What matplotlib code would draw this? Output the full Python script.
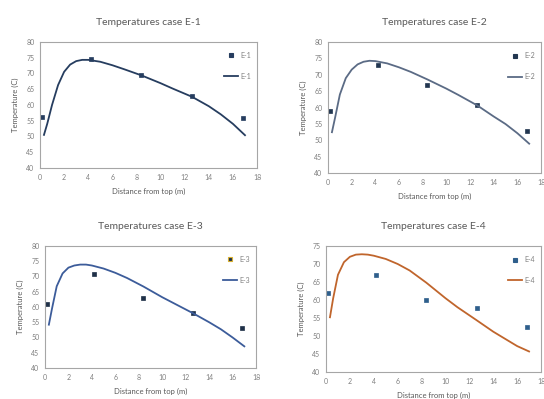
import matplotlib
matplotlib.use("Agg")
from matplotlib import pyplot as plt
from matplotlib.lines import Line2D

plt.rcParams['font.family'] = ['Lato', 'DejaVu Sans']

# measured points (same depths for every case)
depth_pts = [0.15, 4.2, 8.4, 12.6, 16.8]
e1_pts = [56.3, 74.5, 69.5, 62.7, 55.9]
e2_pts = [59.0, 73.0, 67.0, 60.8, 53.0]
e3_pts = [61.0, 70.7, 63.0, 58.0, 53.0]
e4_pts = [62.0, 67.0, 60.0, 57.8, 52.4]

# simulated curves
depth_sim = [0.33, 0.6, 1.0, 1.5, 2.0, 2.5, 3.0, 3.5, 4.0, 5.0, 6.0, 7.0,
             8.4, 10.0, 11.0, 12.6, 14.0, 15.0, 16.0, 17.0]
e1_sim = [50.5, 54.0, 60.0, 66.3, 70.5, 72.8, 73.9, 74.3, 74.3, 73.7, 72.6, 71.3,
          69.4, 66.9, 65.2, 62.6, 59.6, 57.0, 54.0, 50.4]
e2_sim = [52.5, 57.0, 64.0, 69.0, 71.6, 73.2, 74.0, 74.3, 74.2, 73.5, 72.3, 70.9,
          68.6, 65.8, 63.9, 60.7, 57.3, 55.0, 52.2, 49.0]
e3_sim = [54.2, 59.5, 66.8, 71.0, 72.9, 73.6, 73.9, 73.9, 73.6, 72.6, 71.2, 69.5,
          66.7, 63.2, 61.2, 58.0, 55.0, 52.7, 50.0, 47.1]
e4_sim = [55.2, 60.5, 67.0, 70.5, 72.0, 72.6, 72.7, 72.6, 72.3, 71.4, 70.0, 68.2,
          64.8, 60.5, 58.0, 54.4, 51.2, 49.2, 47.2, 45.7]

cases = ['E-1', 'E-2', 'E-3', 'E-4']
pts_list = [e1_pts, e2_pts, e3_pts, e4_pts]
sim_list = [e1_sim, e2_sim, e3_sim, e4_sim]
line_colors = ['#263d5f', '#5b6b85', '#3c5c9a', '#c0652c']
marker_colors = ['#263d5f', '#223650', '#1f3048', '#2f5f8c']
legend_edges = ['#263d5f', '#223650', '#d8b030', '#2f5f8c']
ytop = [80, 80, 80, 75]

# axes boxes [left, bottom, width, height]
boxes = [[0.0735, 0.579, 0.399, 0.316],
         [0.603, 0.566, 0.3915, 0.3285],
         [0.0827, 0.0777, 0.388, 0.3058],
         [0.5993, 0.0677, 0.3952, 0.3158]]

grey = '#7f7f7f'
fig = plt.figure(figsize=(5.44, 3.99), dpi=100)
fig.set_facecolor('white')

for i in range(4):
    ax = fig.add_axes(boxes[i])
    ax.plot(depth_pts, pts_list[i], linestyle='none', marker='s', markersize=3,
            color=marker_colors[i], markeredgewidth=0.5)
    ax.plot(depth_sim, sim_list[i], color=line_colors[i], linewidth=1.3)
    ax.set_xlim(0, 18)
    ax.set_ylim(40, ytop[i])
    ax.set_xticks(range(0, 19, 2))
    ax.set_yticks(range(40, ytop[i] + 1, 5))
    ax.tick_params(length=0, labelsize=5, labelcolor=grey, pad=4)
    for s in ax.spines.values():
        s.set_color('#a6a6a6')
        s.set_linewidth(0.8)
    ax.set_title('Temperatures case ' + cases[i], fontsize=7.5, color='#595959', pad=12)
    ax.set_xlabel('Distance from top (m)', fontsize=5.5, color='#595959', labelpad=5)
    ax.set_ylabel('Temperature (C)', fontsize=5.5, color='#595959', labelpad=5)

    # legend handles: point marker first, then the curve
    h_pt = Line2D([], [], linestyle='none', marker='s', markersize=3,
                  color=marker_colors[i], markeredgecolor=legend_edges[i],
                  markeredgewidth=0.8)
    h_ln = Line2D([], [], color=line_colors[i], linewidth=1.3)
    ax.legend([h_pt, h_ln], [cases[i], cases[i]], loc='upper right',
              bbox_to_anchor=(1.0, 0.97), frameon=False, fontsize=5,
              labelspacing=2.0, handlelength=2.0, handletextpad=0.3,
              labelcolor=grey)

fig.savefig('out.png', dpi=100)
